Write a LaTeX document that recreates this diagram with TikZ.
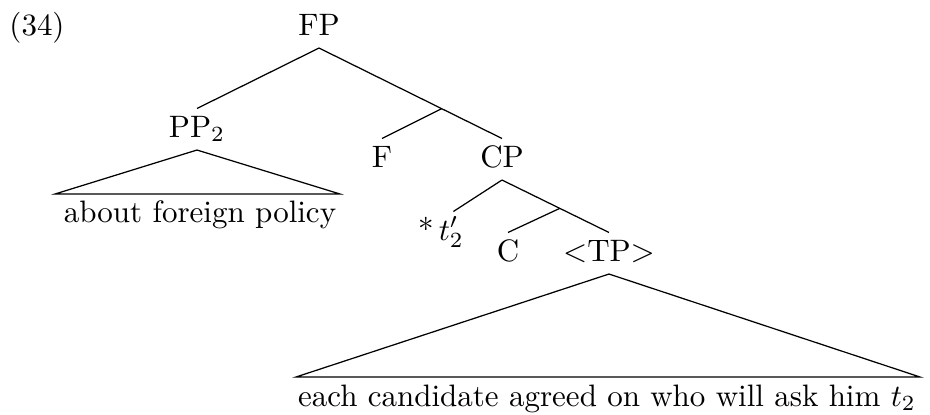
\documentclass[tikz,border=0pt]{standalone}
\usetikzlibrary{calc}
\begin{document}
\begin{tikzpicture}[x=0.3226pt, y=-0.3226pt,
    lab/.style={anchor=base, inner sep=2pt, text height=7pt, text depth=2pt}]
        % \draw[help lines, gray!50, very thin] (0,0) grid[step=50] (930,414);
        \useasboundingbox (0,0) rectangle (930,414);

        \node[lab] (ex) at (37,35) {(34)};

        % upper part
        \node[lab] (fp) at (319,35) {FP};
        \node[lab] (pp) at (197,137) {PP$_2$};
        \node[lab] (f) at (382,167) {F};
        \node[lab] (cp) at (502,167) {CP};
        \coordinate (fbar) at ($(fp.south)!0.67!(cp.north)$);
        \draw (fp.south) -- (pp.north);
        \draw (fp.south) -- (fbar) -- (cp.north);
        \draw (fbar) -- (f.north);

        % triangle under PP
        \node[lab] (afp) at (200,222) {about foreign policy};
        \coordinate (ppl) at (55,194);
        \coordinate (ppr) at (340,194);
        \draw (pp.south) -- (ppl) -- (ppr) -- cycle;

        % lower part
        \node[lab] (tr) at (441,240) {*\,$t'_2$};
        \node[lab] (c) at (508,261) {C};
        \node[lab] (tp) at (609,261) {$<$TP$>$};
        \coordinate (cbar) at ($(cp.south)!0.54!(tp.north)$);
        \draw (cp.south) -- ([xshift=4]tr.north);
        \draw (cp.south) -- (cbar) -- (tp.north);
        \draw (cbar) -- (c.north);

        % triangle under TP
        \node[lab] (each) at (607,406) {each candidate agreed on who will ask him $t_2$};
        \coordinate (tpl) at (296,377);
        \coordinate (tpr) at (920,377);
        \draw (tp.south) -- (tpl) -- (tpr) -- cycle;
      \end{tikzpicture}
\end{document}
